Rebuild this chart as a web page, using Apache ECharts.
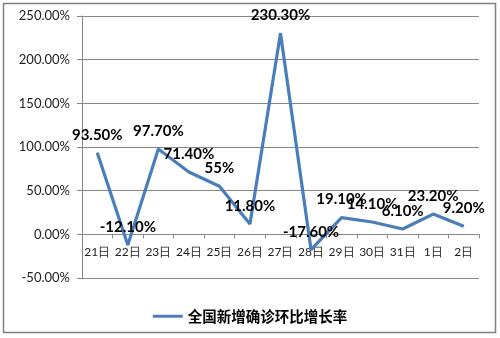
<!DOCTYPE html>
<html>
<head>
<meta charset="utf-8">
<script src="https://cdn.jsdelivr.net/npm/echarts@6/dist/echarts.min.js"></script>
<style>
html,body{margin:0;padding:0;background:#fff;}
#c{width:500px;height:338px;}
</style>
</head>
<body>
<div id="c"></div>
<script>
var categories = ['21日','22日','23日','24日','25日','26日','27日','28日','29日','30日','31日','1日','2日'];
var values = [93.5, -12.1, 97.7, 71.4, 55, 11.8, 230.3, -17.6, 19.1, 14.1, 6.1, 23.2, 9.2];
var pointLabels = ['93.50%','-12.10%','97.70%','71.40%','55%','11.80%','230.30%','-17.60%','19.10%','14.10%','6.10%','23.20%','9.20%'];
var yTickMin = -50, yTickMax = 250, yTickStep = 50;
var seriesName = '全国新增确诊环比增长率';

var gridTop = 16, gridBottom = 60, H = 338;
var plotH = H - gridTop - gridBottom;
var zeroOffset = -plotH * (0 - yTickMin) / (yTickMax - yTickMin);

var chart = echarts.init(document.getElementById('c'));
chart.setOption({
  animation: false,
  backgroundColor: '#fff',
  graphic: [{
    type: 'rect',
    shape: {x: 3.5, y: 3.5, width: 492, height: 329},
    style: {fill: 'none', stroke: '#808080', lineWidth: 1.5},
    silent: true
  }],
  grid: {left: 82, right: 21, top: gridTop, bottom: gridBottom, containLabel: false},
  legend: {
    top: 304,
    left: 'center',
    icon: 'rect',
    itemWidth: 30,
    itemHeight: 3,
    itemGap: 4,
    textStyle: {fontFamily: 'Noto Sans CJK SC', fontSize: 14.5, fontWeight: 'bold', color: '#000'},
    data: [seriesName]
  },
  xAxis: {
    type: 'category',
    data: categories,
    boundaryGap: true,
    offset: zeroOffset,
    axisLine: {onZero: false, lineStyle: {color: '#868686', width: 1}},
    axisTick: {show: true, length: 4, lineStyle: {color: '#868686'}},
    axisLabel: {margin: 12, fontFamily: 'Lato', fontSize: 12, color: '#222', interval: 0}
  },
  yAxis: {
    type: 'value',
    min: yTickMin,
    max: yTickMax,
    interval: yTickStep,
    axisLine: {show: true, lineStyle: {color: '#868686'}},
    axisTick: {show: true, length: 5, lineStyle: {color: '#868686'}},
    splitLine: {show: true, lineStyle: {color: '#868686', width: 1}},
    axisLabel: {
      margin: 12,
      fontFamily: 'Lato',
      fontSize: 13,
      color: '#222',
      formatter: function (v) { return v.toFixed(2) + '%'; }
    }
  },
  series: [{
    name: seriesName,
    type: 'line',
    data: values,
    symbol: 'circle',
    symbolSize: 1,
    showSymbol: true,
    itemStyle: {color: '#4a7ebb'},
    lineStyle: {color: '#4a7ebb', width: 3.2},
    label: {
      show: true,
      position: 'top',
      distance: 10,
      fontFamily: 'Lato',
      fontWeight: 'bold',
      fontSize: 15,
      color: '#000',
      formatter: function (p) { return pointLabels[p.dataIndex]; }
    }
  }]
});
</script>
</body>
</html>
